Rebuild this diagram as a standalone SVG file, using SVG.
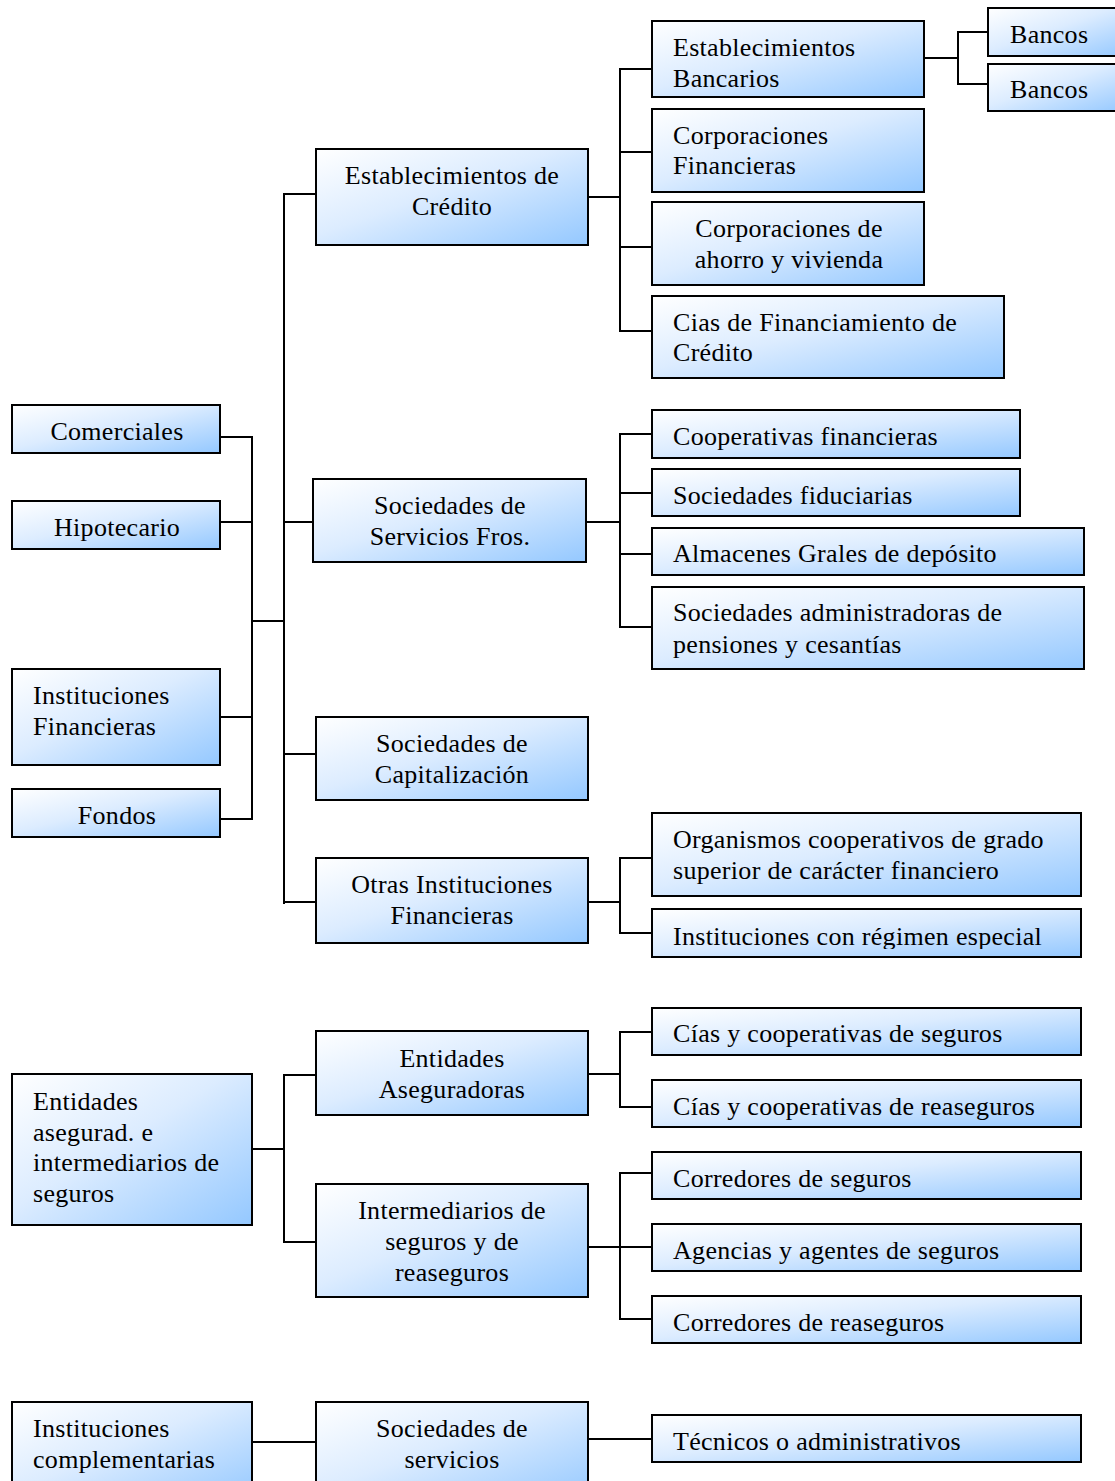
<svg xmlns="http://www.w3.org/2000/svg" width="1115" height="1481" viewBox="0 0 1115 1481">
<style>
.box{fill:url(#g);stroke:#000;stroke-width:2}
.t{font-family:'Liberation Serif','Times New Roman','DejaVu Serif',serif;font-size:26px;letter-spacing:0.3px;fill:#000}
.c{text-anchor:middle}
.conn path{stroke:#000;stroke-width:2;fill:none}
</style>
<defs>
<linearGradient id="g" x1="0" y1="0" x2="1" y2="1">
<stop offset="0" stop-color="#ffffff"/>
<stop offset="0.45" stop-color="#dcecff"/>
<stop offset="1" stop-color="#94c8ff"/>
</linearGradient>
<clipPath id="cp1"><rect x="652" y="21" width="272" height="67"/></clipPath>
<clipPath id="cp2"><rect x="652" y="909" width="429" height="40"/></clipPath>
<clipPath id="cp3"><rect x="652" y="1008" width="429" height="40"/></clipPath>
<clipPath id="cp4"><rect x="652" y="1080" width="429" height="40"/></clipPath>
<clipPath id="cp5"><rect x="652" y="1152" width="429" height="40"/></clipPath>
<clipPath id="cp6"><rect x="652" y="1224" width="429" height="40"/></clipPath>
<clipPath id="cp7"><rect x="652" y="1296" width="429" height="40"/></clipPath>
</defs>
<rect width="1115" height="1481" fill="#fff"/>

<g class="conn" id="connectors">
<path d="M220,437H252M220,522H252M220,717H252M220,819H252M252,436V820M252,621H284"/>
<path d="M284,193V904M284,194H316M284,522H313M284,754H316M284,902H316"/>
<path d="M588,197H620M620,68V332M620,69H652M620,152H652M620,247H652M620,331H652"/>
<path d="M924,58H958M958,31V85M958,32H988M958,84H988"/>
<path d="M586,522H620M620,433V628M620,434H652M620,493H652M620,554H652M620,627H652"/>
<path d="M588,902H620M620,857V934M620,858H652M620,933H652"/>
<path d="M252,1149H284M284,1074V1243M284,1075H316M284,1242H316"/>
<path d="M588,1074H620M620,1031V1108M620,1032H652M620,1107H652"/>
<path d="M588,1247H620M620,1172V1320M620,1173H652M620,1247H652M620,1319H652"/>
<path d="M252,1442H316M588,1439H652"/>
</g>

<g font-family="'Liberation Serif','Times New Roman','DejaVu Serif',serif">
<g id="n-comerciales"><rect class="box" x="12" y="405" width="208" height="48"/><text class="t c" x="117" y="440">Comerciales</text></g>
<g id="n-hipotecario"><rect class="box" x="12" y="501" width="208" height="48"/><text class="t c" x="117" y="536">Hipotecario</text></g>
<g id="n-instfin"><rect class="box" x="12" y="669" width="208" height="96"/><text class="t" x="33" y="704">Instituciones</text><text class="t" x="33" y="735">Financieras</text></g>
<g id="n-fondos"><rect class="box" x="12" y="789" width="208" height="48"/><text class="t c" x="117" y="824">Fondos</text></g>

<g id="n-estcred"><rect class="box" x="316" y="149" width="272" height="96"/><text class="t c" x="452" y="184">Establecimientos de</text><text class="t c" x="452" y="215">Crédito</text></g>
<g id="n-socserv"><rect class="box" x="313" y="479" width="273" height="83"/><text class="t c" x="450" y="514">Sociedades de</text><text class="t c" x="450" y="545">Servicios Fros.</text></g>
<g id="n-soccap"><rect class="box" x="316" y="717" width="272" height="83"/><text class="t c" x="452" y="752">Sociedades de</text><text class="t c" x="452" y="783">Capitalización</text></g>
<g id="n-otras"><rect class="box" x="316" y="858" width="272" height="85"/><text class="t c" x="452" y="893">Otras Instituciones</text><text class="t c" x="452" y="924">Financieras</text></g>

<g id="n-estbanc"><rect class="box" x="652" y="21" width="272" height="76"/><g clip-path="url(#cp1)"><text class="t" x="673" y="56">Establecimientos</text><text class="t" x="673" y="87">Bancarios</text></g></g>
<g id="n-bancos1"><rect class="box" x="988" y="8" width="140" height="48"/><text class="t" x="1010" y="43">Bancos</text></g>
<g id="n-bancos2"><rect class="box" x="988" y="64" width="140" height="47"/><text class="t" x="1010" y="98">Bancos</text></g>
<g id="n-corpfin"><rect class="box" x="652" y="109" width="272" height="83"/><text class="t" x="673" y="144">Corporaciones</text><text class="t" x="673" y="174">Financieras</text></g>
<g id="n-corpahorro"><rect class="box" x="652" y="202" width="272" height="83"/><text class="t c" x="789" y="237">Corporaciones de</text><text class="t c" x="789" y="268">ahorro y vivienda</text></g>
<g id="n-cias"><rect class="box" x="652" y="296" width="352" height="82"/><text class="t" x="673" y="331">Cias de Financiamiento de</text><text class="t" x="673" y="361">Crédito</text></g>

<g id="n-coopfin"><rect class="box" x="652" y="410" width="368" height="48"/><text class="t" x="673" y="445">Cooperativas financieras</text></g>
<g id="n-socfid"><rect class="box" x="652" y="469" width="368" height="47"/><text class="t" x="673" y="504">Sociedades fiduciarias</text></g>
<g id="n-almacenes"><rect class="box" x="652" y="528" width="432" height="47"/><text class="t" x="673" y="562">Almacenes Grales de depósito</text></g>
<g id="n-socadm"><rect class="box" x="652" y="587" width="432" height="82"/><text class="t" x="673" y="621">Sociedades administradoras de</text><text class="t" x="673" y="653">pensiones y cesantías</text></g>

<g id="n-organismos"><rect class="box" x="652" y="813" width="429" height="83"/><text class="t" x="673" y="848">Organismos cooperativos de grado</text><text class="t" x="673" y="879">superior de carácter financiero</text></g>
<g id="n-regimen"><rect class="box" x="652" y="909" width="429" height="48"/><g clip-path="url(#cp2)"><text class="t" x="673" y="945">Instituciones con régimen especial</text></g></g>

<g id="n-entaseg-interm"><rect class="box" x="12" y="1074" width="240" height="151"/><text class="t" x="33" y="1110">Entidades</text><text class="t" x="33" y="1141">asegurad. e</text><text class="t" x="33" y="1171">intermediarios de</text><text class="t" x="33" y="1202">seguros</text></g>
<g id="n-entaseg"><rect class="box" x="316" y="1031" width="272" height="84"/><text class="t c" x="452" y="1067">Entidades</text><text class="t c" x="452" y="1098">Aseguradoras</text></g>
<g id="n-interm"><rect class="box" x="316" y="1184" width="272" height="113"/><text class="t c" x="452" y="1219">Intermediarios de</text><text class="t c" x="452" y="1250">seguros y de</text><text class="t c" x="452" y="1281">reaseguros</text></g>
<g id="n-ciasseg"><rect class="box" x="652" y="1008" width="429" height="47"/><g clip-path="url(#cp3)"><text class="t" x="673" y="1042">Cías y cooperativas de seguros</text></g></g>
<g id="n-ciasreaseg"><rect class="box" x="652" y="1080" width="429" height="47"/><g clip-path="url(#cp4)"><text class="t" x="673" y="1115">Cías y cooperativas de reaseguros</text></g></g>
<g id="n-corrseg"><rect class="box" x="652" y="1152" width="429" height="47"/><g clip-path="url(#cp5)"><text class="t" x="673" y="1187">Corredores de seguros</text></g></g>
<g id="n-agencias"><rect class="box" x="652" y="1224" width="429" height="47"/><g clip-path="url(#cp6)"><text class="t" x="673" y="1259">Agencias y agentes de seguros</text></g></g>
<g id="n-corrreaseg"><rect class="box" x="652" y="1296" width="429" height="47"/><g clip-path="url(#cp7)"><text class="t" x="673" y="1331">Corredores de reaseguros</text></g></g>

<g id="n-instcompl"><rect class="box" x="12" y="1402" width="240" height="100"/><text class="t" x="33" y="1437">Instituciones</text><text class="t" x="33" y="1468">complementarias</text></g>
<g id="n-socservicios"><rect class="box" x="316" y="1402" width="272" height="100"/><text class="t c" x="452" y="1437">Sociedades de</text><text class="t c" x="452" y="1468">servicios</text></g>
<g id="n-tecnicos"><rect class="box" x="652" y="1415" width="429" height="47"/><text class="t" x="673" y="1450">Técnicos o administrativos</text></g>
</g>
</svg>
